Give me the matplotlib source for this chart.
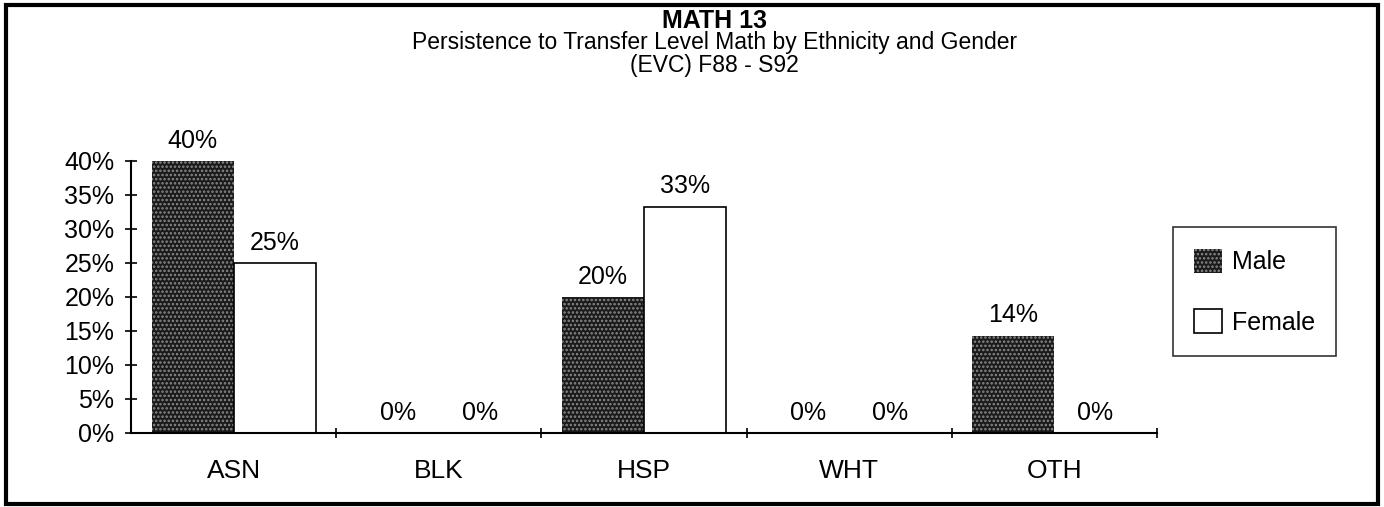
import matplotlib
matplotlib.use('Agg')
import matplotlib.pyplot as plt
from matplotlib.patches import Rectangle
import numpy as np

plt.rcParams['font.family'] = ['Liberation Sans', 'DejaVu Sans']
plt.rcParams['hatch.color'] = '#8a8a8a'
plt.rcParams['hatch.linewidth'] = 1.2

categories = ['ASN', 'BLK', 'HSP', 'WHT', 'OTH']
male = [0.40, 0.0, 0.20, 0.0, 0.143]
female = [0.25, 0.0, 0.333, 0.0, 0.0]
yticks = [0.0, 0.05, 0.10, 0.15, 0.20, 0.25, 0.30, 0.35, 0.40]
ytick_labels = ['0%', '5%', '10%', '15%', '20%', '25%', '30%', '35%', '40%']


def pct(v):
    return f'{v * 100:.0f}%'


fig = plt.figure(figsize=(13.84, 5.07), dpi=100)
ax = fig.add_axes([0.0947, 0.146, 0.7413, 0.5365])

x = np.arange(len(categories))
w = 0.4
b_male = ax.bar(x - w / 2, male, w, color='#1a1a1a', hatch='....', linewidth=0, label='Male')
b_female = ax.bar(x + w / 2, female, w, color='white', edgecolor='black', linewidth=1.2, label='Female')

ax.bar_label(b_male, labels=[pct(v) for v in male], padding=6, fontsize=18)
ax.bar_label(b_female, labels=[pct(v) for v in female], padding=6, fontsize=18)

ax.set_xlim(-0.5, 4.5)
ax.set_ylim(0, 0.40)
ax.set_yticks(yticks)
ax.set_yticklabels(ytick_labels, fontsize=18)
ax.set_xticks(x)
ax.set_xticklabels(categories, fontsize=19)
ax.set_xticks(np.arange(0.5, 5.0, 1.0), minor=True)
ax.tick_params(axis='x', which='major', length=0, pad=19)
ax.tick_params(axis='x', which='minor', direction='inout', length=7, width=1.2)
ax.tick_params(axis='y', direction='inout', length=8, width=1.2, pad=8)

for s in ['top', 'right']:
    ax.spines[s].set_visible(False)
for s in ['left', 'bottom']:
    ax.spines[s].set_linewidth(1.5)

fig.text(0.516, 0.958, 'MATH 13', ha='center', va='center', fontsize=18, fontweight='bold')
fig.text(0.516, 0.916, 'Persistence to Transfer Level Math by Ethnicity and Gender',
         ha='center', va='center', fontsize=16.5)
fig.text(0.516, 0.870, '(EVC) F88 - S92', ha='center', va='center', fontsize=16.5)

leg = fig.legend(handles=[b_male, b_female], labels=['Male', 'Female'],
                 loc='center', bbox_to_anchor=(0.9064, 0.425), fontsize=18,
                 frameon=True, fancybox=False, edgecolor='black',
                 handlelength=1.1, handleheight=1.1, labelspacing=1.4,
                 borderpad=0.85, handletextpad=0.4)
leg.get_frame().set_linewidth(1.2)

fig.patches.append(Rectangle((0.004, 0.006), 0.992, 0.984, transform=fig.transFigure,
                             fill=False, edgecolor='black', linewidth=3))

fig.savefig('out.png', dpi=100)
